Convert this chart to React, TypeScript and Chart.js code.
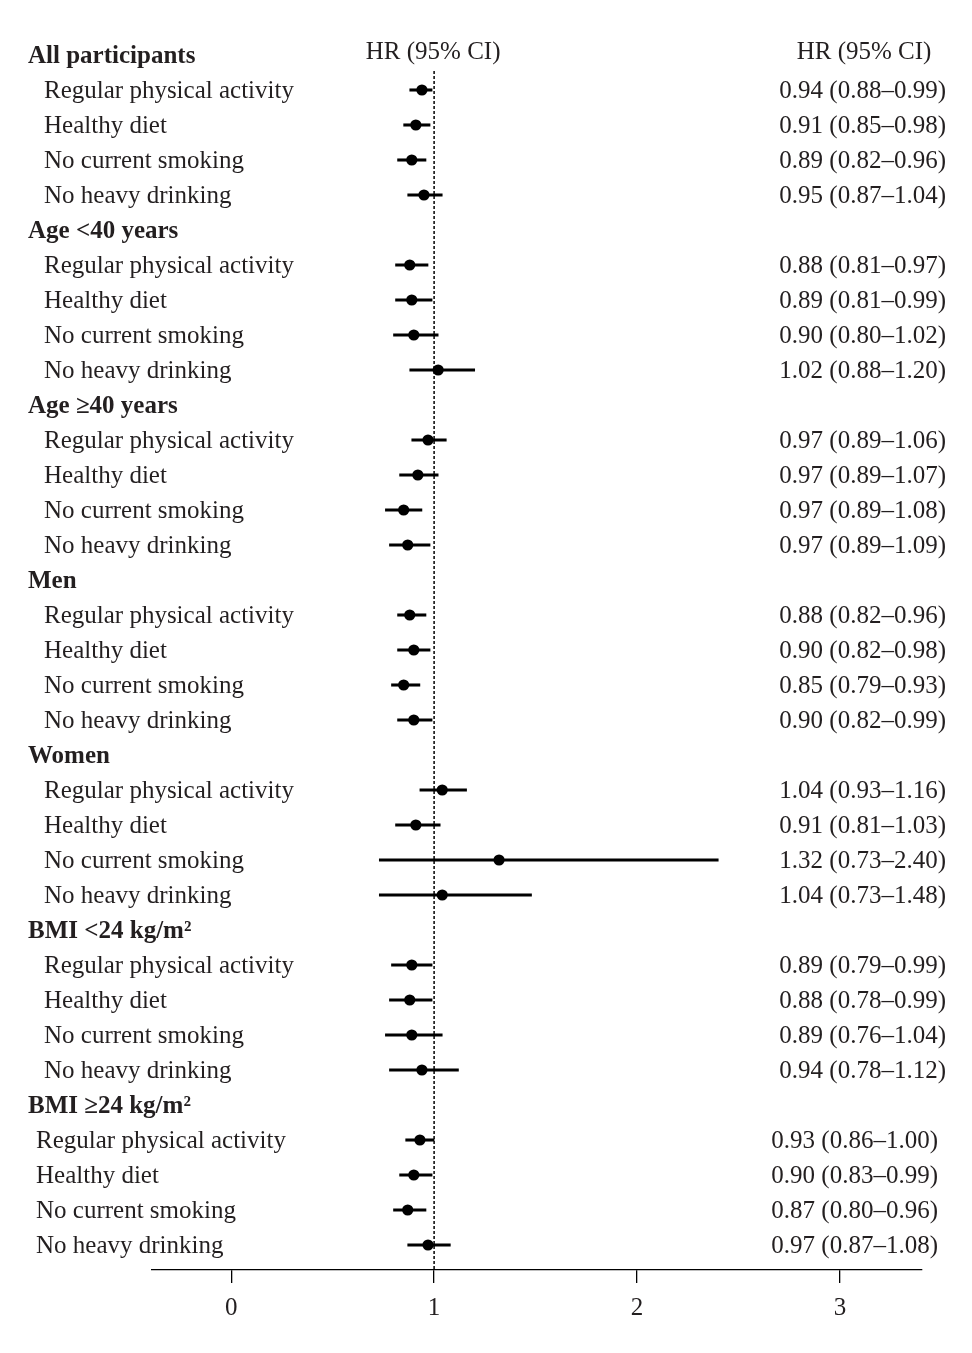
import React, { useEffect, useRef } from "react";
import { Chart, registerables } from "chart.js";

Chart.register(...registerables);

// ---------- data ----------
const groups: string[] = [
  "All participants",
  "Age <40 years",
  "Age \u226540 years",
  "Men",
  "Women",
  "BMI <24 kg/m\u00B2",
  "BMI \u226524 kg/m\u00B2",
];

const behaviours: string[] = [
  "Regular physical activity",
  "Healthy diet",
  "No current smoking",
  "No heavy drinking",
];

// point estimates (as plotted), in group order, 4 per group
const hrEstimate: number[] = [
  0.94, 0.91, 0.89, 0.95,
  0.88, 0.89, 0.9, 1.02,
  0.97, 0.92, 0.85, 0.87,
  0.88, 0.9, 0.85, 0.9,
  1.04, 0.91, 1.32, 1.04,
  0.89, 0.88, 0.89, 0.94,
  0.93, 0.9, 0.87, 0.97,
];

const ciLower: number[] = [
  0.88, 0.85, 0.82, 0.87,
  0.81, 0.81, 0.8, 0.88,
  0.89, 0.83, 0.76, 0.78,
  0.82, 0.82, 0.79, 0.82,
  0.93, 0.81, 0.73, 0.73,
  0.79, 0.78, 0.76, 0.78,
  0.86, 0.83, 0.8, 0.87,
];

const ciUpper: number[] = [
  0.99, 0.98, 0.96, 1.04,
  0.97, 0.99, 1.02, 1.2,
  1.06, 1.02, 0.94, 0.98,
  0.96, 0.98, 0.93, 0.99,
  1.16, 1.03, 2.4, 1.48,
  0.99, 0.99, 1.04, 1.12,
  1.0, 0.99, 0.96, 1.08,
];

const hrLabels: string[] = [
  "0.94 (0.88\u20130.99)", "0.91 (0.85\u20130.98)", "0.89 (0.82\u20130.96)", "0.95 (0.87\u20131.04)",
  "0.88 (0.81\u20130.97)", "0.89 (0.81\u20130.99)", "0.90 (0.80\u20131.02)", "1.02 (0.88\u20131.20)",
  "0.97 (0.89\u20131.06)", "0.97 (0.89\u20131.07)", "0.97 (0.89\u20131.08)", "0.97 (0.89\u20131.09)",
  "0.88 (0.82\u20130.96)", "0.90 (0.82\u20130.98)", "0.85 (0.79\u20130.93)", "0.90 (0.82\u20130.99)",
  "1.04 (0.93\u20131.16)", "0.91 (0.81\u20131.03)", "1.32 (0.73\u20132.40)", "1.04 (0.73\u20131.48)",
  "0.89 (0.79\u20130.99)", "0.88 (0.78\u20130.99)", "0.89 (0.76\u20131.04)", "0.94 (0.78\u20131.12)",
  "0.93 (0.86\u20131.00)", "0.90 (0.83\u20130.99)", "0.87 (0.80\u20130.96)", "0.97 (0.87\u20131.08)",
];

const xTicks: number[] = [0, 1, 2, 3];
const columnTitle = "HR (95% CI)";
const referenceValue = 1;

// ---------- helpers ----------
const ROWS_PER_GROUP = behaviours.length + 1;
const TOTAL_ROWS = groups.length * ROWS_PER_GROUP;
const rowOf = (i: number) =>
  Math.floor(i / behaviours.length) * ROWS_PER_GROUP + 1 + (i % behaviours.length);

const FONT = "'Liberation Serif', 'DejaVu Serif', serif";
const TEXT = "#231f20";
const TEXT_DY = 1.5;

export default function App() {
  const ref = useRef<HTMLCanvasElement | null>(null);

  useEffect(() => {
    if (!ref.current) return;

    const textPlugin = {
      id: "forestText",
      beforeDatasetsDraw(chart: any) {
        const { ctx, scales } = chart;
        const x1 = scales.x.getPixelForValue(referenceValue);
        ctx.save();
        ctx.strokeStyle = "#000";
        ctx.lineWidth = 1.5;
        ctx.setLineDash([3, 2]);
        ctx.beginPath();
        ctx.moveTo(x1, 71);
        ctx.lineTo(x1, chart.chartArea.bottom);
        ctx.stroke();
        ctx.restore();
      },
      afterDatasetsDraw(chart: any) {
        const { ctx, scales } = chart;
        const ys = scales.y;
        ctx.save();
        ctx.fillStyle = TEXT;
        ctx.textBaseline = "middle";
        groups.forEach((g, gi) => {
          const last = gi === groups.length - 1;
          const headRow = gi * ROWS_PER_GROUP;
          ctx.font = `bold 25px ${FONT}`;
          ctx.textAlign = "left";
          ctx.fillText(g, 28, ys.getPixelForValue(headRow) + TEXT_DY);
          ctx.font = `25px ${FONT}`;
          behaviours.forEach((b, bi) => {
            const idx = gi * behaviours.length + bi;
            const y = ys.getPixelForValue(rowOf(idx)) + TEXT_DY;
            ctx.textAlign = "left";
            ctx.fillText(b, last ? 36 : 44, y);
            ctx.textAlign = "right";
            ctx.fillText(hrLabels[idx], last ? 938 : 946, y);
          });
        });
        ctx.font = `25px ${FONT}`;
        ctx.textAlign = "center";
        const yh = ys.getPixelForValue(0) - 3;
        ctx.fillText(columnTitle, scales.x.getPixelForValue(referenceValue) - 1, yh);
        ctx.fillText(columnTitle, 864, yh);
        ctx.restore();
      },
    };

    const chart = new Chart(ref.current, {
      type: "bar",
      data: {
        datasets: [
          {
            type: "bar",
            label: "95% CI",
            data: hrEstimate.map((_, i) => ({ x: [ciLower[i], ciUpper[i]], y: rowOf(i) })) as any,
            backgroundColor: "#000",
            borderWidth: 0,
            barThickness: 2.4,
            grouped: false,
          } as any,
          {
            type: "scatter",
            label: "HR",
            data: hrEstimate.map((v, i) => ({ x: v, y: rowOf(i) })),
            backgroundColor: "#000",
            borderColor: "#000",
            pointRadius: 5.6,
            pointBorderWidth: 0,
            showLine: false,
          } as any,
        ],
      },
      options: {
        indexAxis: "y",
        animation: false,
        responsive: true,
        maintainAspectRatio: false,
        layout: { padding: { left: 152, right: 50, top: 30, bottom: 0 } },
        plugins: {
          legend: { display: false },
          tooltip: { enabled: false },
        },
        scales: {
          x: {
            type: "linear",
            position: "bottom",
            offset: false,
            min: -0.39,
            max: 3.404,
            afterBuildTicks: (scale: any) => {
              scale.ticks = xTicks.map((v) => ({ value: v }));
            },
            afterFit: (scale: any) => {
              scale.height = 83;
            },
            grid: {
              drawOnChartArea: false,
              drawTicks: true,
              offset: false,
              tickLength: 13,
              color: "#000",
              lineWidth: 1.3,
            },
            border: { display: true, color: "#000", width: 1.3 },
            ticks: {
              padding: 10,
              color: TEXT,
              font: { family: FONT, size: 25 },
              callback: (v: any) => String(v),
            },
          },
          y: {
            type: "linear",
            display: false,
            reverse: true,
            offset: false,
            grid: { offset: false },
            min: -0.714,
            max: TOTAL_ROWS - 1 + 0.714,
          },
        },
      } as any,
      plugins: [textPlugin],
    });

    return () => chart.destroy();
  }, []);

  return (
    <div style={{ position: "absolute", left: 0, top: 0, width: 972, height: 1353, background: "#fff" }}>
      <canvas ref={ref} />
    </div>
  );
}
